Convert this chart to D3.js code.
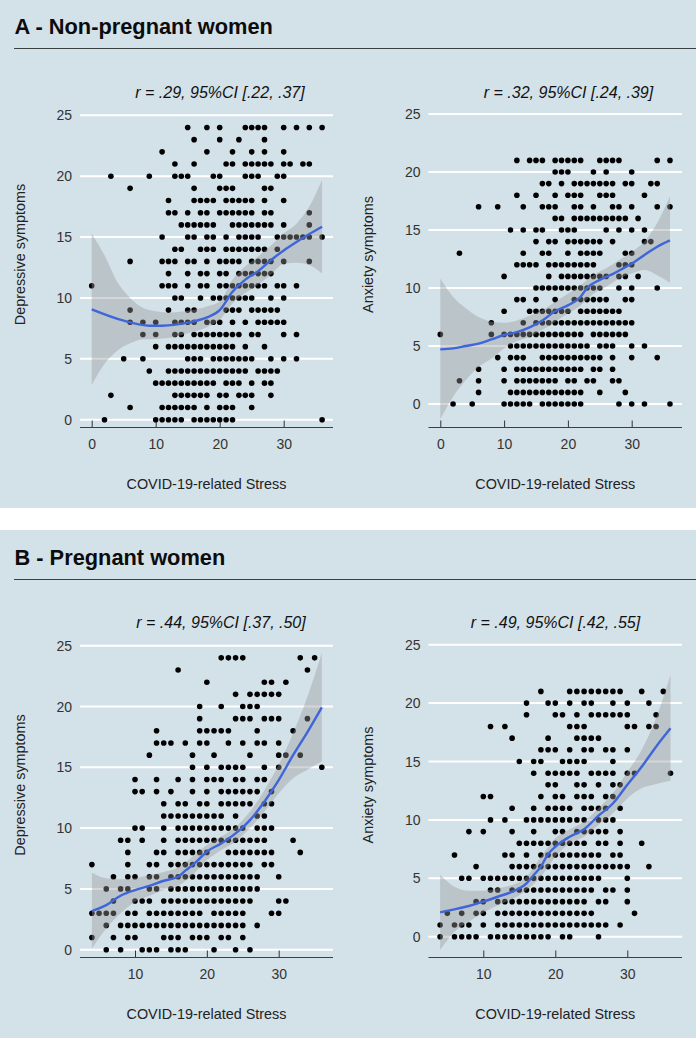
<!DOCTYPE html>
<html><head><meta charset="utf-8">
<style>html,body{margin:0;padding:0;background:#fff}svg{display:block}text{font-family:"Liberation Sans",Arial,sans-serif}</style>
<script src="https://cdn.jsdelivr.net/npm/d3@7"></script>
</head><body><svg id="c" width="696" height="1038"></svg>
<script>
// Each row: [symptom score, stress values having a dot at that score]
const a1Rows=[
[24,[15,18,20,24,25,26,27,30,32,34,36]],
[23,[16,20,23,27]],
[22,[11,18,22,25,27,30]],
[21,[13,16,21,22,24,25,26,27,28,30,31,33,34]],
[20,[3,9,13,14,15,19,20,24,25,26,29,30]],
[19,[6,16,20,21,22,27,28]],
[18,[12,16,17,18,19,21,22,23,24,25,27,30]],
[17,[12,13,15,17,18,20,21,22,23,24,25,27,28,34]],
[16,[14,15,16,17,18,19,22,23,24,25,26,27,28,30,34]],
[15,[11,15,16,18,19,21,23,24,25,26,29,30,31,32,33,34,36]],
[14,[13,14,17,18,19,21,22,23,24,25,26,27,29]],
[13,[6,11,12,13,15,16,18,20,21,22,23,25,26,27,28,30,34]],
[12,[12,15,17,18,20,21,23,24,25,26,27,28]],
[11,[0,11,12,13,15,17,18,20,21,22,23,24,25,26,27,29,30,32]],
[10,[13,14,17,19,20,21,22,23,24,25,28,30]],
[9,[6,12,15,16,21,22,23,25,26,27,28,29]],
[8,[6,8,10,13,14,15,16,18,19,20,22,24,26,27,28,29,30]],
[7,[8,10,13,14,16,17,18,19,20,21,22,23,25,26,30,32]],
[6,[10,12,13,14,15,16,17,18,19,20,21,22,24,27]],
[5,[5,8,15,16,17,19,20,21,22,23,24,25,28,30,32]],
[4,[9,12,13,14,15,16,17,18,19,20,21,22,23,24,26,27,28,29]],
[3,[10,11,12,13,14,15,16,17,18,19,21,22,23,25,27,28]],
[2,[3,13,14,15,16,17,18,20,21,23,24,25,28]],
[1,[6,11,12,13,14,15,16,18,20,21,22,25]],
[0,[2,10,11,12,13,14,16,17,18,19,20,21,22,36]]];
const a2Rows=[
[21,[12,14,15,16,18,19,20,21,22,25,26,27,28,34,36]],
[20,[18,19,20,24,26,30]],
[19,[16,17,19,21,22,23,24,25,26,27,29,30,33,34]],
[18,[12,15,18,20,21,22,25,26,27,32]],
[17,[6,9,13,16,17,18,21,22,24,27,28,30,34,36]],
[16,[18,19,21,22,23,24,25,26,27,28,29,31]],
[15,[11,13,15,16,19,20,21,26,28,30,32]],
[14,[15,17,18,20,21,22,23,24,25,27,32,33]],
[13,[3,13,16,17,20,22,23,24,25,29,30]],
[12,[12,13,14,15,17,18,19,20,21,22,23,24,28,29,30]],
[11,[10,17,19,20,21,22,23,24,25,26,28,29,31]],
[10,[15,16,17,18,19,20,21,22,23,24,25,28,30,34]],
[9,[12,13,15,18,21,22,23,24,25,26,29,30]],
[8,[10,14,15,16,17,18,19,20,22,23,24,25,26,27,28]],
[7,[8,13,15,16,17,18,19,20,21,22,23,24,25,26,27,28,29,30]],
[6,[0,8,10,11,12,13,14,15,16,17,18,19,20,21,22,24,25,26,27,28,29]],
[5,[11,12,13,14,15,16,17,18,19,20,21,22,23,25,26,27,30,32]],
[4,[9,11,12,13,16,17,18,19,20,21,22,23,24,25,27,30,34]],
[3,[6,10,12,13,14,15,16,17,18,19,20,21,22,24,25,27]],
[2,[3,6,10,12,13,14,15,16,17,18,20,21,23,24,27,28]],
[1,[6,11,12,13,14,15,16,17,18,19,20,21,22,25,29]],
[0,[2,5,10,11,12,13,14,16,17,18,19,20,21,22,28,30,32,36]]];
const b1Rows=[
[24,[22,23,24,25,33,35]],
[23,[16,34]],
[22,[20,28,29,31]],
[21,[24,26,27,28,29,30]],
[20,[19,22,25,26,27]],
[19,[19,24,25,26,28,29,30,34]],
[18,[13,19,20,21,22,23,27,32]],
[17,[13,14,15,17,19,20,23,25,27,28,30]],
[16,[12,18,21,26,30,31,33]],
[15,[18,20,22,23,24,25,28,30,36]],
[14,[10,13,16,18,20,21,22,24,25,27,28]],
[13,[10,11,13,15,18,20,22,23,24,25,26,27,29]],
[12,[14,16,17,19,20,22,23,24,25,26,28,29]],
[11,[14,15,16,17,18,19,20,21,22,24,27,28]],
[10,[10,11,14,16,17,18,19,20,21,22,23,24,25,27,28,29]],
[9,[8,9,11,14,16,17,18,19,20,21,22,23,24,25,26,27,28,32]],
[8,[9,13,14,16,17,18,19,20,23,24,25,26,27,28,29,33]],
[7,[4,9,12,13,15,16,17,18,19,20,21,22,23,24,25,26,28,29]],
[6,[7,9,10,12,13,15,16,17,18,19,20,21,22,23,24,25,26,27,30]],
[5,[6,8,9,12,13,15,16,17,18,19,20,21,22,23,24,25,26,27]],
[4,[7,10,11,12,14,15,16,17,18,19,20,21,22,23,24,25,26,30,31]],
[3,[4,5,6,7,9,10,12,13,14,15,16,17,18,19,21,22,23,24,25,29,30]],
[2,[6,8,9,10,11,12,13,14,15,16,17,18,19,20,21,22,23,24,25,27]],
[1,[4,7,9,10,14,15,16,18,19,20,22,23,25]],
[0,[6,8,11,12,13,15,16,17,21,24,26]]];
const b2Rows=[
[21,[18,22,23,24,25,26,27,28,29,32,35]],
[20,[16,19,20,22,24,25,28,30,33]],
[19,[16,20,21,23,25,26,27,28,29,30,34]],
[18,[11,13,22,23,24,30,31,33,34]],
[17,[14,19,23,24,25,26]],
[16,[18,19,20,22,24,25,27,28,30]],
[15,[15,17,18,21,22,23,24,28]],
[14,[17,19,20,21,22,23,25,26,27,28,30,31,36]],
[13,[19,20,23,24,26,28,29]],
[12,[10,11,18,20,21,23,24,25,27,28]],
[11,[14,17,19,20,21,22,24,25,26,27,29]],
[10,[11,13,16,17,18,19,20,21,22,23,24,26,27,28]],
[9,[8,10,14,17,20,21,23,24,25,26,27,29]],
[8,[15,16,17,18,19,20,21,22,23,24,26,27,29,32]],
[7,[6,13,14,16,18,19,20,21,22,23,24,25,26,28,29]],
[6,[9,14,15,16,17,18,19,20,21,22,23,24,25,26,27,28,29,30,33]],
[5,[7,8,10,11,12,13,14,15,16,17,18,19,20,21,22,23,24,25,26,30]],
[4,[11,12,14,15,16,17,18,19,20,21,22,23,24,25,27,28,30]],
[3,[9,10,12,13,14,15,16,17,18,19,20,21,22,23,24,26,27,30]],
[2,[5,7,9,10,12,13,14,15,16,17,18,19,20,21,22,23,24,25,31]],
[1,[4,6,7,8,10,12,13,14,15,16,17,18,19,20,21,22,23,24,25,26,27,29]],
[0,[4,6,7,8,9,11,12,13,14,15,16,17,18,19,21,22,26]]];

// Smooth curve and confidence band: [stress, fit]
const a1Fit=[[0,9.06],[5,8.13],[9,7.72],[11,7.72],[15,7.97],[18,8.4],[20,9],[22,10.5],[24,11.5],[26,12.2],[28,13.1],[30,13.9],[32,14.6],[34,15.25],[36,15.85]];
const a1Upper=[[0,15.3],[2,13.5],[4,11.3],[6,10],[8,9.2],[10,8.9],[12,8.8],[15,8.95],[18,9.3],[20,9.7],[22,11.5],[24,12.6],[26,13.4],[28,14.3],[30,15.3],[32,16.1],[34,17.5],[36,19.7]];
const a1Lower=[[0,2.85],[2,4.6],[4,5.67],[6,6.27],[8,6.6],[10,6.63],[12,6.7],[15,7.1],[18,7.6],[20,8.2],[22,9.55],[24,10.4],[26,11.1],[28,11.9],[30,12.8],[32,12.9],[34,12.7],[36,12]];
const a2Fit=[[0,4.71],[2,4.8],[4,5],[6,5.2],[8,5.57],[10,5.95],[12,6.2],[14,6.6],[16,7.2],[18,8],[20,8.5],[22,9.25],[23,10],[25,10.7],[27,11.2],[29,11.8],[30,12.1],[32,12.85],[34,13.55],[36,14.1]];
const a2Upper=[[0,10.8],[2,9.25],[4,8.25],[6,7.5],[8,7.1],[10,7],[12,7.2],[14,7.6],[16,8.1],[18,8.8],[20,9.5],[22,10.25],[24,11.1],[26,11.7],[28,12.4],[30,13.1],[32,14],[34,15.6],[36,17.9]];
const a2Lower=[[0,-1.3],[2,0.63],[4,2.07],[6,3.2],[8,3.9],[10,4.8],[12,5.4],[14,5.8],[16,6.4],[18,7.1],[20,7.8],[22,8.5],[24,9.5],[26,10.1],[28,10.8],[30,11.25],[32,11.55],[34,11.1],[36,10.46]];
const b1Fit=[[4,3.18],[6,3.67],[8,4.44],[10,4.9],[12,5.24],[14,5.67],[16,6],[17,6.5],[18,6.96],[19,7.5],[20,8.06],[22,8.74],[24,9.57],[26,10.66],[28,12.17],[30,13.95],[32,16],[34,17.9],[36,19.93]];
const b1Upper=[[4,6.33],[6,5.87],[8,5.8],[10,5.87],[12,6.14],[14,6.4],[16,6.77],[18,7.65],[20,8.6],[22,9.3],[24,10.1],[26,11.35],[28,13.1],[30,15.2],[32,17.8],[34,20.8],[36,24.4]];
const b1Lower=[[4,0.1],[6,1.75],[8,3],[10,3.95],[12,4.44],[14,4.9],[16,5.24],[18,6.14],[20,7.37],[22,8.2],[24,8.9],[26,10],[28,11.35],[30,12.86],[32,14.1],[34,14.8],[36,15.5]];
const b2Fit=[[4,2.08],[6,2.34],[8,2.63],[10,3],[12,3.42],[14,3.85],[16,4.57],[17,5.28],[18,6],[19,7.08],[20,7.7],[22,8.56],[24,9.2],[26,10.36],[28,11.4],[30,13],[32,14.55],[34,16.27],[36,17.84]];
const b2Upper=[[4,5.28],[6,4.28],[8,3.94],[10,3.94],[12,4.14],[14,4.42],[16,5.14],[18,6.85],[20,8.42],[22,9.2],[24,9.85],[26,11],[28,12.3],[30,14.1],[32,16],[34,18.7],[36,22.4]];
const b2Lower=[[4,-1.14],[6,0.43],[8,1.28],[10,2.05],[12,2.7],[14,3.2],[16,4],[18,5.14],[20,6.85],[22,8],[24,8.56],[26,9.56],[28,10.56],[30,11.84],[32,12.7],[34,13.07],[36,13.36]];

const xTicksA=[0,10,20,30], xTicksB=[10,20,30];
const yTicksDep=[0,5,10,15,20,25], yTicksAnx=[0,5,10,15,20,25];
const panelTitles=["A - Non-pregnant women","B - Pregnant women"];
const xLabel="COVID-19-related Stress";

const BG="#d3e1e9";
const svg=d3.select("#c");
svg.append("rect").attr("width",696).attr("height",1038).attr("fill","#fff");
[[0,508,26,48,panelTitles[0]],[530,508,557,579,panelTitles[1]]].forEach(([top,h,ty,ly,t])=>{
  svg.append("rect").attr("y",top).attr("width",696).attr("height",h).attr("fill",BG);
  svg.append("text").attr("x",14.5).attr("y",ty+8).attr("font-size",21.8).attr("font-weight",700).attr("fill","#0c0c0c").text(t);
  svg.append("line").attr("x1",14).attr("x2",696).attr("y1",ly+.5).attr("y2",ly+.5).attr("stroke","#3a3f42").attr("stroke-width",1);
});

const panels=[
 {rows:a1Rows,fit:a1Fit,up:a1Upper,lo:a1Lower,title:"r = .29, 95%CI [.22, .37]",tx:220,ty:92,yl:"Depressive symptoms",ylx:21,ylc:254.5,
  xd:[0,30],xr:[91.7,283.7],yd:[0,25],yr:[419.7,115.3],L:80,R:333,axis:427.5,xt:xTicksA,yt:yTicksDep},
 {rows:a2Rows,fit:a2Fit,up:a2Upper,lo:a2Lower,title:"r = .32, 95%CI [.24, .39]",tx:568.5,ty:92,yl:"Anxiety symptoms",ylx:369,ylc:254.5,
  xd:[0,30],xr:[440.3,631.7],yd:[0,25],yr:[404,114],L:428.5,R:682,axis:427.5,xt:xTicksA,yt:yTicksAnx},
 {rows:b1Rows,fit:b1Fit,up:b1Upper,lo:b1Lower,title:"r = .44, 95%CI [.37, .50]",tx:221,ty:622,yl:"Depressive symptoms",ylx:21,ylc:785,
  xd:[10,30],xr:[135,278.7],yd:[0,25],yr:[949.7,645.7],L:80,R:333,axis:957.5,xt:xTicksB,yt:yTicksDep},
 {rows:b2Rows,fit:b2Fit,up:b2Upper,lo:b2Lower,title:"r = .49, 95%CI [.42, .55]",tx:555.5,ty:622,yl:"Anxiety symptoms",ylx:369,ylc:785,
  xd:[10,30],xr:[483.3,627.3],yd:[0,25],yr:[936.7,644.7],L:428.5,R:682,axis:957.5,xt:xTicksB,yt:yTicksAnx}
];

panels.forEach(p=>{
  const x=d3.scaleLinear().domain(p.xd).range(p.xr);
  const y=d3.scaleLinear().domain(p.yd).range(p.yr);
  const g=svg.append("g");
  g.selectAll(".g").data(p.yt).join("line").attr("x1",p.L).attr("x2",p.R)
    .attr("y1",d=>y(d)).attr("y2",d=>y(d)).attr("stroke","#fff").attr("stroke-width",2);
  g.selectAll(".yl").data(p.yt).join("text").attr("x",p.L-8).attr("y",d=>y(d)+5)
    .attr("text-anchor","end").attr("font-size",14).attr("fill","#333").text(d=>d);
  const ax=g.append("g").attr("transform",`translate(0,${p.axis})`)
    .call(d3.axisBottom(x).tickValues(p.xt).tickSize(-7).tickFormat(d=>d));
  ax.select(".domain").remove();
  ax.selectAll(".tick line").attr("stroke","#333").attr("stroke-width",1);
  ax.selectAll(".tick text").attr("y",21).attr("dy",0).attr("font-size",14).attr("fill","#333")
    .attr("font-family",'"Liberation Sans",Arial,sans-serif');
  g.append("line").attr("x1",p.L).attr("x2",p.R).attr("y1",p.axis).attr("y2",p.axis).attr("stroke","#3a3f42").attr("stroke-width",1);
  const pts=p.rows.flatMap(([s,xs])=>xs.map(v=>({v,s})));
  g.selectAll(".d").data(pts).join("circle").attr("cx",d=>x(d.v)).attr("cy",d=>y(d.s)).attr("r",2.8).attr("fill","#000");
  const band=d3.line().curve(d3.curveMonotoneX).x(d=>x(d[0])).y(d=>y(d[1]));
  const upPath=band(p.up), loPath=band(p.lo.slice().reverse());
  g.append("path").attr("d",upPath+"L"+loPath.slice(1)+"Z").attr("fill","#999").attr("fill-opacity",.4);
  g.append("path").attr("d",band(p.fit)).attr("fill","none").attr("stroke","#3f66d8").attr("stroke-width",2.4);
  g.append("text").attr("x",p.tx).attr("y",p.ty+5.5).attr("text-anchor","middle").attr("font-size",16).attr("font-style","italic").attr("fill","#111").text(p.title);
  g.append("text").attr("transform",`translate(${p.ylx+4},${p.ylc}) rotate(-90)`).attr("text-anchor","middle").attr("font-size",14.4).attr("fill","#222").text(p.yl);
  g.append("text").attr("x",(p.L+p.R)/2).attr("y",p.axis+61).attr("text-anchor","middle").attr("font-size",14.4).attr("fill","#222").text(xLabel);
});
</script></body></html>
